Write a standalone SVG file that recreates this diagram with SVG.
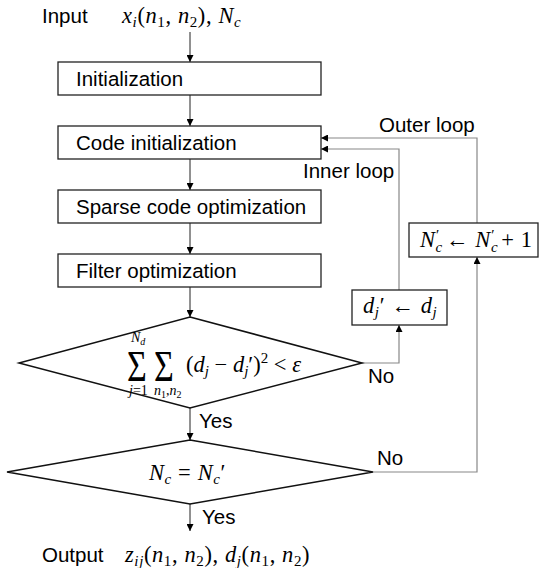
<svg xmlns="http://www.w3.org/2000/svg" width="539" height="568" viewBox="0 0 539 568">
<defs>
<style>
.t{font-family:"Liberation Sans",Arial,sans-serif;font-size:20.5px;fill:#000}
.m{font-family:"Liberation Serif","Times New Roman",serif;font-size:22.5px;font-style:italic;fill:#000;letter-spacing:0.6px}
.u{font-style:normal}
.s{font-size:15px}
.box{fill:#fff;stroke:#222;stroke-width:1.3}
.dia{fill:#fff;stroke:#111;stroke-width:1.5}
.arr{fill:none;stroke:#222;stroke-width:1}
.loop{fill:none;stroke:#888;stroke-width:1.2}
</style>
<marker id="ah" viewBox="0 0 10 10" refX="10" refY="5" markerWidth="7" markerHeight="7" markerUnits="userSpaceOnUse" orient="auto">
<path d="M0,0 L10,5 L0,10 z" fill="#000"/>
</marker>
</defs>

<g id="connectors">
<line class="arr" x1="190" y1="32" x2="190" y2="62" marker-end="url(#ah)"/>
<line class="arr" x1="190" y1="95" x2="190" y2="126" marker-end="url(#ah)"/>
<line class="arr" x1="190" y1="159" x2="190" y2="190" marker-end="url(#ah)"/>
<line class="arr" x1="190" y1="223" x2="190" y2="254" marker-end="url(#ah)"/>
<line class="arr" x1="190" y1="287" x2="190" y2="317" marker-end="url(#ah)"/>
<line class="arr" x1="190" y1="408" x2="190" y2="440" marker-end="url(#ah)"/>
<line class="arr" x1="190" y1="504" x2="190" y2="531" marker-end="url(#ah)"/>
<polyline class="loop" points="362,363 399,363 399,325" marker-end="url(#ah)"/>
<polyline class="loop" points="399,290 399,149 321,149" marker-end="url(#ah)"/>
<polyline class="loop" points="373,472 477,472 477,257" marker-end="url(#ah)"/>
<polyline class="loop" points="477,223 477,138 321,138" marker-end="url(#ah)"/>
</g>

<g id="input">
<text class="t" x="42" y="23">Input</text>
<text class="m" x="122" y="23">x<tspan class="s" dy="4">i</tspan><tspan class="u" dy="-4">(</tspan>n<tspan class="s u" dy="4">1</tspan><tspan class="u" dy="-4">, </tspan>n<tspan class="s u" dy="4">2</tspan><tspan class="u" dy="-4">),  </tspan>N<tspan class="s" dy="4">c</tspan></text>
</g>

<g id="initialization">
<rect class="box" x="58" y="62" width="263" height="33"/>
<text class="t" x="76" y="86">Initialization</text>
</g>

<g id="code-initialization">
<rect class="box" x="58" y="126" width="263" height="33"/>
<text class="t" x="76" y="150">Code initialization</text>
</g>

<g id="sparse-code-optimization">
<rect class="box" x="58" y="190" width="263" height="33"/>
<text class="t" x="76" y="214">Sparse code optimization</text>
</g>

<g id="filter-optimization">
<rect class="box" x="58" y="254" width="263" height="33"/>
<text class="t" x="76" y="278">Filter optimization</text>
</g>

<g id="convergence-check">
<polygon class="dia" points="190,317 362,363 190,408 19,363"/>
<text class="m" transform="translate(127,381) scale(1,1.3)" style="font-style:normal;font-size:34px;letter-spacing:0">Σ</text>
<text class="m" transform="translate(154,381) scale(1,1.3)" style="font-style:normal;font-size:34px;letter-spacing:0">Σ</text>
<text class="m" x="131" y="342" style="font-size:14px;letter-spacing:0">N<tspan style="font-size:10px" dy="3">d</tspan></text>
<text class="m" x="129" y="395" style="font-size:14px;letter-spacing:0">j<tspan class="u">=1</tspan></text>
<text class="m" x="154" y="395" style="font-size:14px;letter-spacing:0">n<tspan style="font-size:10px" class="u" dy="3">1</tspan><tspan class="u" dy="-3">,</tspan>n<tspan style="font-size:10px" class="u" dy="3">2</tspan></text>
<text class="m" x="186" y="372" style="letter-spacing:0"><tspan class="u">(</tspan>d<tspan class="s" dy="4">j</tspan><tspan class="u" dy="-4"> − </tspan>d<tspan class="s" dy="4">j</tspan><tspan class="u" dy="-4">′)</tspan><tspan class="s u" dy="-9">2</tspan><tspan class="u" dy="9"> &lt; </tspan>ε</text>
<text class="t" x="368" y="383">No</text>
<text class="t" x="199" y="428">Yes</text>
</g>

<g id="update-filter">
<rect class="box" x="352" y="290" width="95" height="35"/>
<text class="m" x="363" y="313">d<tspan class="s" dy="4">j</tspan><tspan class="u" dy="-4">′ ← </tspan>d<tspan class="s" dy="4">j</tspan></text>
</g>

<g id="update-count">
<rect class="box" x="409" y="223" width="129" height="34"/>
<text class="m" x="420" y="247">N<tspan class="s" dy="5">c</tspan><tspan class="s u" dx="-7" dy="-12">′</tspan><tspan class="u" dy="7"> ← </tspan>N<tspan class="s" dy="5">c</tspan><tspan class="s u" dx="-7" dy="-12">′</tspan><tspan class="u" dy="7">  + 1</tspan></text>
</g>

<g id="count-check">
<polygon class="dia" points="190,440 373,472 190,504 7,472"/>
<text class="m" x="149" y="480">N<tspan class="s" dy="4">c</tspan><tspan class="u" dy="-4"> = </tspan>N<tspan class="s" dy="4">c</tspan><tspan class="u" dy="-4">′</tspan></text>
<text class="t" x="377" y="465">No</text>
<text class="t" x="202" y="524">Yes</text>
</g>

<g id="loop-labels">
<text class="t" x="379" y="132">Outer loop</text>
<text class="t" x="303" y="178">Inner loop</text>
</g>

<g id="output">
<text class="t" x="42" y="562">Output</text>
<text class="m" x="125" y="562">z<tspan class="s" dy="4">ij</tspan><tspan class="u" dy="-4">(</tspan>n<tspan class="s u" dy="4">1</tspan><tspan class="u" dy="-4">, </tspan>n<tspan class="s u" dy="4">2</tspan><tspan class="u" dy="-4">),  </tspan>d<tspan class="s" dy="4">j</tspan><tspan class="u" dy="-4">(</tspan>n<tspan class="s u" dy="4">1</tspan><tspan class="u" dy="-4">, </tspan>n<tspan class="s u" dy="4">2</tspan><tspan class="u" dy="-4">)</tspan></text>
</g>
</svg>
